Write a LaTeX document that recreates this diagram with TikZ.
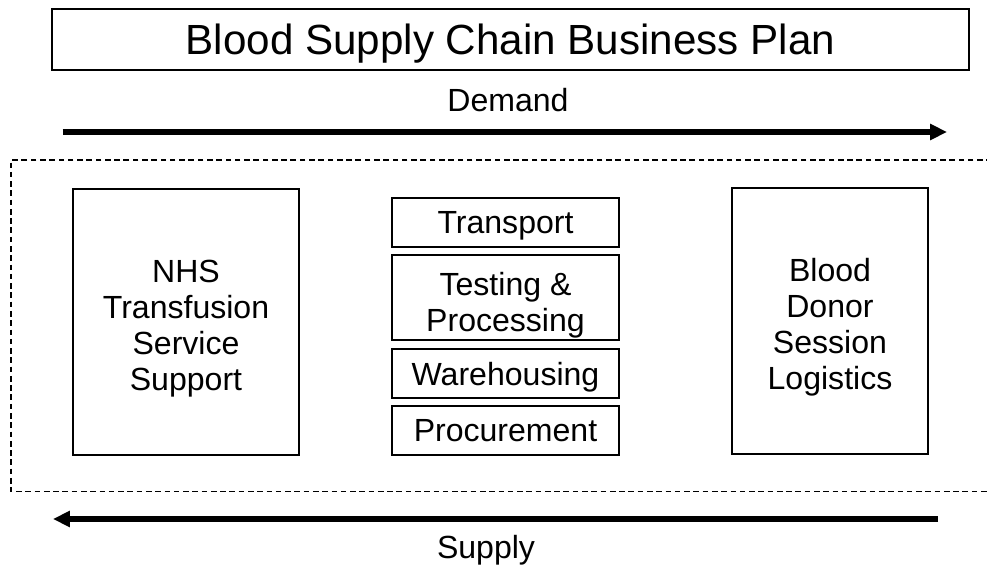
\documentclass[tikz,border=0pt]{standalone}
\usepackage{fontspec}
\setmainfont{Liberation Sans}
\usetikzlibrary{arrows.meta}
\newcommand{\lowered}{\rule{0pt}{25pt}}
\begin{document}
\begin{tikzpicture}[
	box/.style={draw, line width=0.8pt, inner sep=0pt, align=center, font=\fontsize{22.8}{25.6}\selectfont},
	single/.style={box, text depth=0pt},
	flowtext/.style={inner sep=0pt, anchor=base, font=\fontsize{22.8}{25.6}\selectfont},
	flow/.style={line width=3.6pt, -{Triangle[length=12pt 0,width=11pt 0]}},
	chain/.style={line width=0.85pt, dash pattern=on 4pt off 2.6pt}]
	\useasboundingbox (0,0) rectangle (24.675,14.25);
	\node[single, minimum width=22.925cm, minimum height=1.525cm, font=\fontsize{30}{36}\selectfont] (plan) at (12.7625,13.2625) {Blood Supply Chain Business Plan};
	\node[flowtext] (demand) at (12.7,11.46) {Demand};
	\coordinate (dL) at (1.5675,10.95);
	\coordinate (dR) at (23.675,10.95);
	\draw[flow] (dL) -- (dR);
	\draw[chain] (24.8,10.25) -- (0.275,10.25) -- (0.275,1.9625) -- (24.8,1.9625);
	\node[box, minimum width=5.65cm, minimum height=6.65cm] (nhs) at (4.65,6.2) {\lowered NHS\\Transfusion\\Service\\Support};
	\node[single, minimum width=5.675cm, minimum height=1.225cm] (transport) at (12.6375,8.6875) {Transport};
	\node[box, minimum width=5.675cm, minimum height=2.125cm] (testing) at (12.6375,6.8125) {\rule{0pt}{27pt}Testing \&\\Processing};
	\node[single, minimum width=5.675cm, minimum height=1.225cm] (warehousing) at (12.6375,4.9125) {Warehousing};
	\node[single, minimum width=5.675cm, minimum height=1.225cm] (procurement) at (12.6375,3.4875) {Procurement};
	\node[box, minimum width=4.9cm, minimum height=6.65cm] (donor) at (20.75,6.225) {\lowered Blood\\Donor\\Session\\Logistics};
	\coordinate (sR) at (23.45,1.275);
	\coordinate (sL) at (1.325,1.275);
	\draw[flow] (sR) -- (sL);
	\node[flowtext] (supply) at (12.15,0.3) {Supply};
\end{tikzpicture}
\end{document}
